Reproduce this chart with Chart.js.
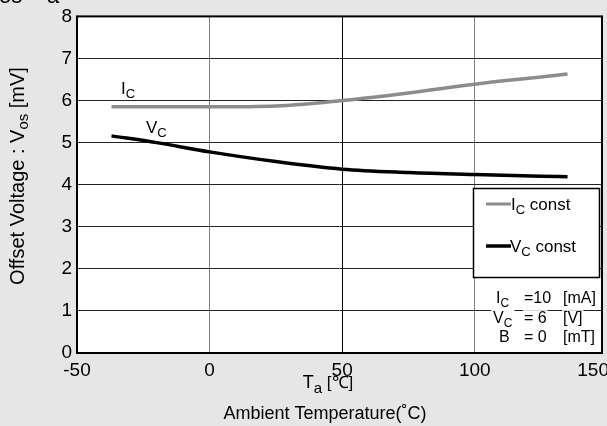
<!DOCTYPE html>
<html>
<head>
<meta charset="utf-8">
<script src="https://cdn.jsdelivr.net/npm/chart.js@4/dist/chart.umd.min.js"></script>
<style>
  html, body { margin: 0; padding: 0; background: #e6e6e6; overflow: hidden; }
  canvas { display: block; }
</style>
</head>
<body>
<canvas id="chart" width="607" height="426"></canvas>
<script>
// ambient temperature (deg C)
const temps = [-37, -20, 0, 25, 50, 75, 100, 125, 135];
// offset voltage Vos (mV)
const icConst = [5.85, 5.85, 5.85, 5.87, 6.0, 6.18, 6.39, 6.56, 6.63];
const vcConst = [5.16, 5.0, 4.78, 4.55, 4.37, 4.29, 4.24, 4.2, 4.19];
const xTicks = [-50, 0, 50, 100, 150];
const yTicks = [0, 1, 2, 3, 4, 5, 6, 7, 8];

const FONT = '"Liberation Sans", Arial, sans-serif';

// draws text made of pieces: [text, size, dy]
function rich(ctx, parts, x, y, align) {
  let w = 0;
  parts.forEach(p => { ctx.font = p[1] + 'px ' + FONT; w += ctx.measureText(p[0]).width; });
  let cx = align === 'center' ? x - w / 2 : align === 'right' ? x - w : x;
  ctx.textAlign = 'left';
  parts.forEach(p => {
    ctx.font = p[1] + 'px ' + FONT;
    ctx.fillText(p[0], cx, y + (p[2] || 0));
    cx += ctx.measureText(p[0]).width;
  });
  return w;
}

function textWithBg(ctx, str, x, y, size) {
  ctx.font = size + 'px ' + FONT;
  const w = ctx.measureText(str).width;
  ctx.fillStyle = '#fff';
  ctx.fillRect(x - 1, y - size * 0.8, w + 2, size * 1.05);
  ctx.fillStyle = '#000';
  ctx.fillText(str, x, y);
  return w;
}

const decor = {
  id: 'decor',
  beforeDraw(chart) {
    const { ctx, chartArea: a } = chart;
    ctx.save();
    ctx.fillStyle = '#e6e6e6';
    ctx.fillRect(0, 0, chart.width, chart.height);
    ctx.fillStyle = '#fff';
    ctx.fillRect(a.left, a.top, a.right - a.left, a.bottom - a.top);
    ctx.restore();
  },
  afterDraw(chart) {
    const { ctx, chartArea: a } = chart;
    const xs = chart.scales.x;
    ctx.save();
    // frame
    ctx.strokeStyle = '#000';
    ctx.lineWidth = 2;
    ctx.strokeRect(a.left, a.top, a.right - a.left, a.bottom - a.top);

    ctx.fillStyle = '#000';
    ctx.textBaseline = 'alphabetic';

    // x tick labels
    ctx.font = '19px ' + FONT;
    xTicks.forEach(v => {
      const s = String(v);
      const w = ctx.measureText(s).width;
      let px = xs.getPixelForValue(v) - w / 2;
      if (px + w > chart.width + 2) px = chart.width + 2 - w;
      ctx.textAlign = 'left';
      ctx.fillText(s, px, 376);
    });

    // curve labels
    rich(ctx, [['I', 17], ['C', 13, 4]], 121, 94);
    rich(ctx, [['V', 17], ['C', 13, 4]], 146, 133);

    // legend box
    ctx.fillStyle = '#fff';
    ctx.fillRect(473, 188, 127, 89);
    ctx.strokeStyle = '#000';
    ctx.lineWidth = 1.5;
    ctx.strokeRect(473.5, 188.5, 126, 89);
    ctx.lineWidth = 3;
    ctx.strokeStyle = '#8c8c8c';
    ctx.beginPath(); ctx.moveTo(486, 204); ctx.lineTo(511, 204); ctx.stroke();
    ctx.lineWidth = 3.5;
    ctx.strokeStyle = '#000';
    ctx.beginPath(); ctx.moveTo(486, 246); ctx.lineTo(511, 246); ctx.stroke();
    ctx.fillStyle = '#000';
    rich(ctx, [['I', 17], ['C', 13, 4], [' const', 17]], 511, 210);
    rich(ctx, [['V', 17], ['C', 13, 4], [' const', 17]], 510, 252);

    // measurement conditions
    const rows = [
      [['I', 'C'], '=10', '[mA]', 303, 496],
      [['V', 'C'], '= 6', '[V]', 323, 493],
      [['B', ''], '= 0', '[mT]', 342, 499]
    ];
    rows.forEach(r => {
      const y = r[3];
      const x = r[4];
      ctx.font = '16px ' + FONT;
      const w1 = ctx.measureText(r[0][0]).width;
      ctx.font = '12px ' + FONT;
      const w2 = ctx.measureText(r[0][1]).width;
      ctx.fillStyle = '#fff';
      ctx.fillRect(x - 2, y - 13, w1 + w2 + 4, 18);
      ctx.fillStyle = '#000';
      rich(ctx, [[r[0][0], 16], [r[0][1], 12, 4]], x, y);
      textWithBg(ctx, r[1], 524, y, 16);
      textWithBg(ctx, r[2], 563, y, 16);
    });

    // axis titles
    ctx.fillStyle = '#000';
    rich(ctx, [['T', 18], ['a', 15, 5], [' [\u2103]', 17]], 328, 388, 'center');
    rich(ctx, [['Ambient Temperature(\u02DAC)', 18]], 325, 419, 'center');

    ctx.save();
    ctx.translate(24, 176);
    ctx.rotate(-Math.PI / 2);
    rich(ctx, [['Offset Voltage : V', 20], ['os', 15, 4], [' [mV]', 20]], 0, 0, 'center');
    ctx.restore();

    // cut-off title at the top edge
    ctx.font = '22px ' + FONT;
    ctx.fillText('os', -1, 3);
    ctx.fillText('a', 47, 3);
    ctx.restore();
  }
};

new Chart(document.getElementById('chart'), {
  type: 'line',
  data: {
    datasets: [
      {
        label: 'Ic const',
        data: temps.map((t, i) => ({ x: t, y: icConst[i] })),
        borderColor: '#8c8c8c',
        borderWidth: 3.5,
        pointRadius: 0,
        cubicInterpolationMode: 'monotone'
      },
      {
        label: 'Vc const',
        data: temps.map((t, i) => ({ x: t, y: vcConst[i] })),
        borderColor: '#000',
        borderWidth: 3.5,
        pointRadius: 0,
        cubicInterpolationMode: 'monotone'
      }
    ]
  },
  options: {
    responsive: false,
    animation: false,
    layout: { padding: { top: 13, right: 5, left: 0, bottom: 0 } },
    plugins: { legend: { display: false }, tooltip: { enabled: false } },
    scales: {
      x: {
        type: 'linear',
        min: -50,
        max: 148,
        afterBuildTicks: s => { s.ticks = xTicks.filter(v => v < 148).map(v => ({ value: v })); },
        afterFit: s => { s.height = 73; },
        ticks: { display: false },
        grid: {
          drawTicks: false,
          color: c => (c.tick && c.tick.value === 50 ? '#000' : '#808080'),
          lineWidth: 1
        },
        border: { display: false }
      },
      y: {
        min: 0,
        max: 8,
        afterBuildTicks: s => { s.ticks = yTicks.map(v => ({ value: v })); },
        afterFit: s => { s.width = 77; },
        ticks: { color: '#000', padding: 5, font: { size: 19, family: FONT } },
        grid: { drawTicks: false, color: '#222', lineWidth: 1 },
        border: { display: false }
      }
    }
  },
  plugins: [decor]
});
</script>
</body>
</html>
